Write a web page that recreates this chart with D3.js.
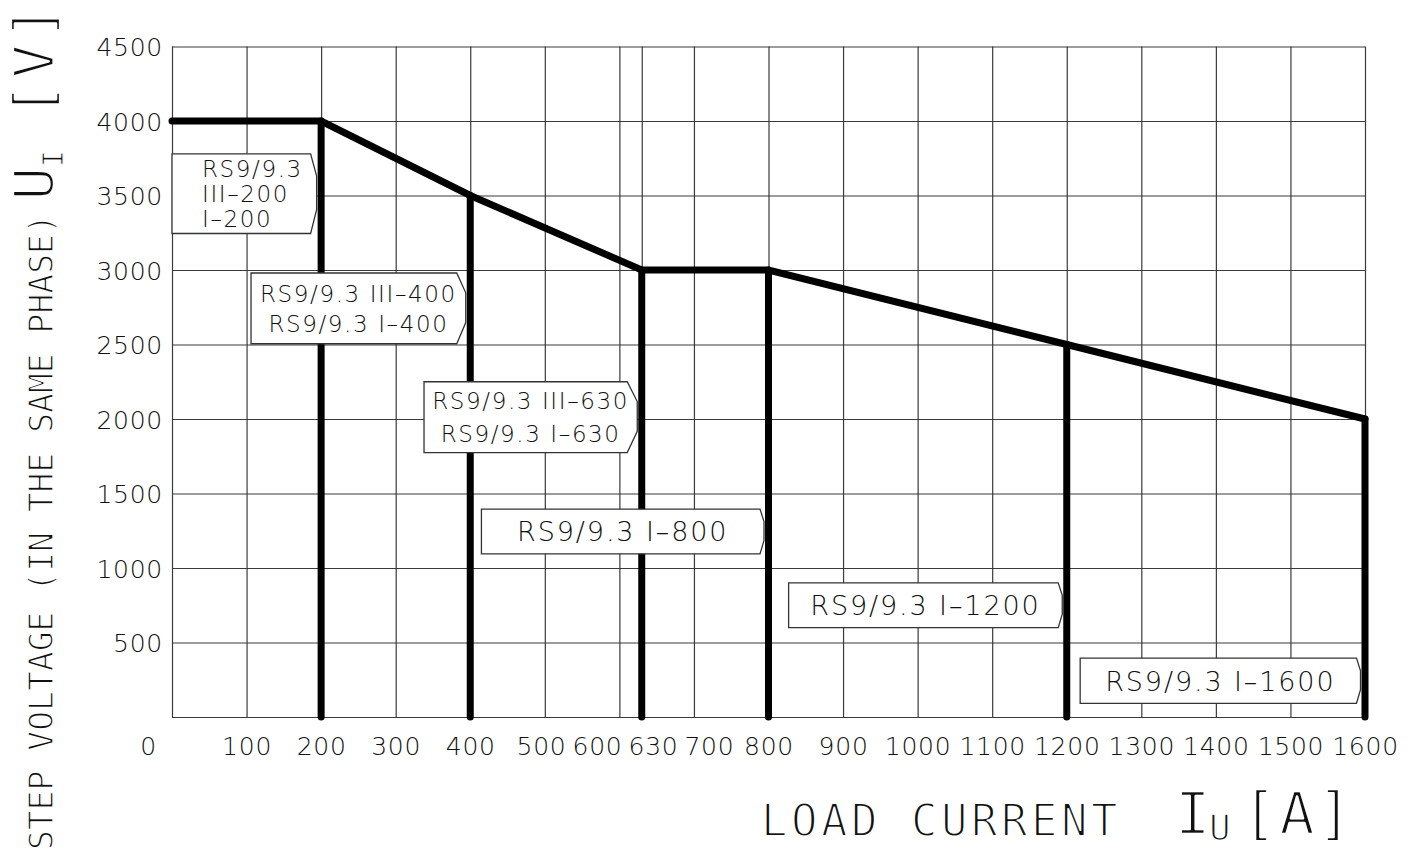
<!DOCTYPE html>
<html>
<head>
<meta charset="utf-8">
<script src="https://cdn.jsdelivr.net/npm/d3@7"></script>
<style>
body { margin: 0; background: #fff; }
svg { display: block; }
</style>
</head>
<body>
<div id="main"></div>
<script>
// load current [A] -> max step voltage [V]
const current = [0, 200, 400, 630, 800, 1200, 1600];
const voltage = [4000, 4000, 3500, 3000, 3000, 2500, 2000];
// ratings that get a drop line down to 0
const ratings = [200, 400, 630, 800, 1200, 1600];
const boxLines = [
	["RS9/9.3", "III–200", "I–200"],
	["RS9/9.3 III–400", "RS9/9.3 I–400"],
	["RS9/9.3 III–630", "RS9/9.3 I–630"],
	["RS9/9.3 I–800"],
	["RS9/9.3 I–1200"],
	["RS9/9.3 I–1600"]
];
const xTicks = [0, 100, 200, 300, 400, 500, 600, 630, 700, 800, 900, 1000, 1100, 1200, 1300, 1400, 1500, 1600];
const yTicks = [500, 1000, 1500, 2000, 2500, 3000, 3500, 4000, 4500];

let margin = {top: 46.5, right: 49, bottom: 132, left: 172};
let width = 1414 - margin.left - margin.right;
let height = 849 - margin.top - margin.bottom;

let x = d3.scaleLinear()
	.domain([0, 1600])
	.range([0, width]);

let y = d3.scaleLinear()
	.domain([0, 4500])
	.range([height, 0]);

const sans = "'DejaVu Sans', 'Liberation Sans', sans-serif";
const mono = "'DejaVu Sans Mono', 'Liberation Mono', monospace";
const ink = "#111";

// where each label box sits, in data units (left edge, top, bottom)
const boxPlace = [
	{left: 0, top: 3780, bottom: 3245, size: 23, lead: 25, align: "start", notch: 6},
	{left: 106, top: 2980, bottom: 2505, size: 23, lead: 30, align: "middle", notch: 9},
	{left: 338, top: 2250, bottom: 1775, size: 23, lead: 33, align: "middle", notch: 10},
	{left: 415, top: 1395, bottom: 1095, size: 27, lead: 0, align: "middle", notch: 4},
	{left: 827, top: 900, bottom: 600, size: 27, lead: 0, align: "middle", notch: 4},
	{left: 1218, top: 395, bottom: 92, size: 27, lead: 0, align: "middle", notch: 4}
];

let svg = d3.select("#main")
	.append("svg")
		.attr("width", 1414)
		.attr("height", 849);

let g = svg.append("g")
	.attr("transform", `translate(${margin.left}, ${margin.top})`);

// grid via the axes
let yAxis = g.append("g")
	.call(d3.axisLeft(y)
		.tickValues([0, ...yTicks])
		.tickSize(-width)
		.tickPadding(9)
		.tickFormat(d => d ? d : ""));

let xAxis = g.append("g")
	.attr("transform", `translate(0,${height})`)
	.call(d3.axisBottom(x)
		.tickValues(xTicks)
		.tickSize(-height)
		.tickPadding(20)
		.tickFormat(d => d));

[yAxis, xAxis].forEach(a => {
	a.select(".domain").remove();
	a.selectAll("line")
		.attr("stroke", "#3a3a3a")
		.attr("stroke-width", 1.2);
	a.selectAll("text")
		.attr("fill", ink)
		.attr("font-family", sans)
		.attr("font-size", 25)
		.attr("font-weight", 200)
		.attr("letter-spacing", "0.03em");
});
yAxis.selectAll("text").attr("dy", "0.36em");

// x labels crowd around 600/630/700, push them apart a bit
let xt = xAxis.selectAll(".tick text").filter(d => d > 0);
let pos = [], wid = [];
xt.each(function(d) {
	pos.push(x(d));
	wid.push(this.getComputedTextLength());
});
for (let k = 0; k < 60; k++) {
	for (let i = 1; i < pos.length; i++) {
		let over = (pos[i-1] + wid[i-1] / 2 + 6) - (pos[i] - wid[i] / 2);
		if (over > 0) {
			pos[i-1] -= over / 2;
			pos[i] += over / 2;
		}
	}
}
xt.attr("x", (d, i) => pos[i] - x(d));
// origin label sits left of the corner
xAxis.selectAll(".tick text").filter(d => d === 0).attr("x", -24);

// the limit curve
let line = d3.line()
	.x((d, i) => x(current[i]))
	.y(d => y(d));

const vAt = c => voltage[current.indexOf(c)];

g.append("g")
	.selectAll("drop")
	.data(ratings)
	.enter()
	.append("line")
		.attr("x1", d => x(d))
		.attr("x2", d => x(d))
		.attr("y1", d => y(vAt(d)))
		.attr("y2", y(0))
		.attr("stroke", "#000")
		.attr("stroke-width", 7)
		.attr("stroke-linecap", "round");

g.append("path")
	.datum(voltage)
	.attr("d", line)
	.attr("fill", "none")
	.attr("stroke", "#000")
	.attr("stroke-width", 7)
	.attr("stroke-linecap", "round")
	.attr("stroke-linejoin", "miter");

// label boxes, pointed on the side of their drop line
let boxes = g.append("g")
	.selectAll("box")
	.data(ratings)
	.enter()
	.append("g");

boxes.append("path")
	.attr("d", (d, i) => {
		let p = boxPlace[i];
		let l = x(p.left), t = y(p.top), b = y(p.bottom);
		let r = x(d) - 4.5, h = b - t;
		return `M${l},${t} L${r - p.notch},${t} L${r},${t + h * 0.28} L${r},${b - h * 0.3} L${r - p.notch},${b} L${l},${b} Z`;
	})
	.attr("fill", "#fff")
	.attr("stroke", "#333")
	.attr("stroke-width", 1.3);

boxes.each(function(d, i) {
	let p = boxPlace[i];
	let lines = boxLines[i];
	let l = x(p.left), t = y(p.top), b = y(p.bottom);
	let r = x(d) - 4.5;
	let cap = p.size * 0.729;
	let mid = (t + b) / 2;
	let tx = p.align === "start" ? l + 30 : (l + r) / 2;
	d3.select(this).selectAll("text")
		.data(lines)
		.enter()
		.append("text")
			.attr("x", tx)
			.attr("y", (s, j) => mid + cap / 2 + (j - (lines.length - 1) / 2) * p.lead)
			.attr("text-anchor", p.align)
			.attr("font-family", sans)
			.attr("font-size", p.size)
			.attr("font-weight", 200)
			.attr("letter-spacing", "0.07em")
			.attr("fill", ink)
			.text(s => s);
});

// axis titles, thin CAD look: mono glyphs eroded with a white stroke
const thinText = (sel, size) => sel
	.attr("font-family", mono)
	.attr("font-size", size)
	.attr("fill", ink)
	.attr("stroke", "#fff")
	.attr("stroke-width", size * 0.04)
	.attr("stroke-linejoin", "round");

svg.append("text").attr("x", 761).attr("y", 836)
	.call(thinText, 44).attr("letter-spacing", 3.5).text("LOAD CURRENT");
svg.append("text").attr("x", 1175).attr("y", 834)
	.call(thinText, 59).text("I");
svg.append("text").attr("x", 1209).attr("y", 840)
	.call(thinText, 36).text("U");
svg.append("text").attr("x", 1241.75).attr("y", 834)
	.call(thinText, 59).attr("letter-spacing", 2).text("[A]");

let yt = svg.append("g").attr("transform", "translate(53, 850) rotate(-90)");
yt.append("text").attr("x", 0).attr("y", 0)
	.call(thinText, 33).text("STEP VOLTAGE (IN THE SAME PHASE)");
yt.append("text").attr("x", 649.5).attr("y", 0)
	.call(thinText, 56).text("U");
yt.append("text").attr("x", 683).attr("y", 10)
	.call(thinText, 28).text("I");
yt.append("text").attr("x", 733).attr("y", 0)
	.call(thinText, 56).attr("letter-spacing", 5).text("[V]");
</script>
</body>
</html>
